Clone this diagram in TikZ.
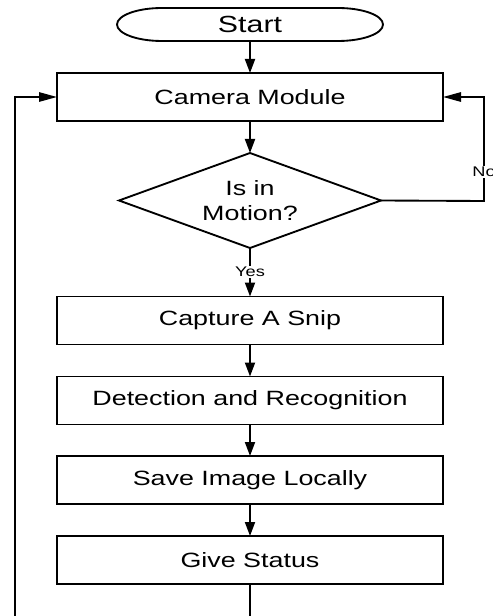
\documentclass[tikz,border=0pt]{standalone}
\usepackage{fontspec}
\setmainfont{Liberation Sans}[FakeStretch=1.3]
\usetikzlibrary{arrows.meta}

\tikzset{
  base/.style={inner sep=0pt, outer sep=0pt, text=black},
  txt/.style={font=\fontsize{15.5pt}{18.75pt}\selectfont},
  procbox/.style={base, txt, draw, line width=1.4pt,
    minimum width=289.5pt, minimum height=36pt},
  lbl/.style={inner sep=1pt, fill=white, font=\fontsize{10.5pt}{12pt}\selectfont},
  flow/.style={line width=1.4pt},
  downarrow/.style={flow, -{Triangle[length=10.5pt, width=7.5pt]}},
  sidearrow/.style={flow, -{Triangle[length=13.5pt, width=7pt]}},
}

\begin{document}
\begin{tikzpicture}[x=0.75pt, y=-0.75pt]
  \useasboundingbox (0,0) rectangle (492,616);

  % terminal: straight sides with elliptic ends
  \node[base, minimum width=199.5pt, minimum height=24.75pt,
        font=\fontsize{17.5pt}{20pt}\selectfont] (start) at (250,24.5) {Start};
  \draw[line width=1.4pt]
    ([xshift=33.75pt]start.north west) -- ([xshift=-33.75pt]start.north east)
    arc[start angle=90, end angle=-90, x radius=33.75pt, y radius=12.375pt]
    -- ([xshift=33.75pt]start.south west)
    arc[start angle=270, end angle=90, x radius=33.75pt, y radius=12.375pt]
    -- cycle;

  % process steps
  \node[procbox] (cam) at (250,97) {Camera Module};

  \node[base, txt, align=center, minimum width=196.5pt, minimum height=71.25pt]
    (dec) at (250,200.5) {Is in\\Motion?};
  \draw[line width=1.4pt] (dec.north) -- (dec.east) -- (dec.south) -- (dec.west) -- cycle;

  \node[procbox] (snip)   at (250,320.5) {Capture A Snip};
  \node[procbox] (detect) at (250,400.5) {Detection and Recognition};
  \node[procbox] (save)   at (250,480)   {Save Image Locally};
  \node[procbox] (status) at (250,560)   {Give Status};

  % loose ends running off the bottom
  \coordinate (statusend) at (250,616);
  \coordinate (loopend)   at (15,616);
  \coordinate (noturn)    at (484,201);

  % main flow
  \draw[downarrow] (start) -- (cam);
  \draw[downarrow] (cam) -- (dec.north);
  \draw[downarrow] (dec.south) -- node[lbl, pos=0.5] {Yes} (snip);
  \draw[downarrow] (snip) -- (detect);
  \draw[downarrow] (detect) -- (save);
  \draw[downarrow] (save) -- (status);
  \draw[flow] (status) -- (statusend);

  % loops back to the camera
  \draw[sidearrow] (loopend) |- (cam.west);
  \draw[sidearrow] (dec.east) -- (noturn) -- node[lbl, pos=0.28] {No} (noturn |- cam.east) -- (cam.east);
\end{tikzpicture}
\end{document}
